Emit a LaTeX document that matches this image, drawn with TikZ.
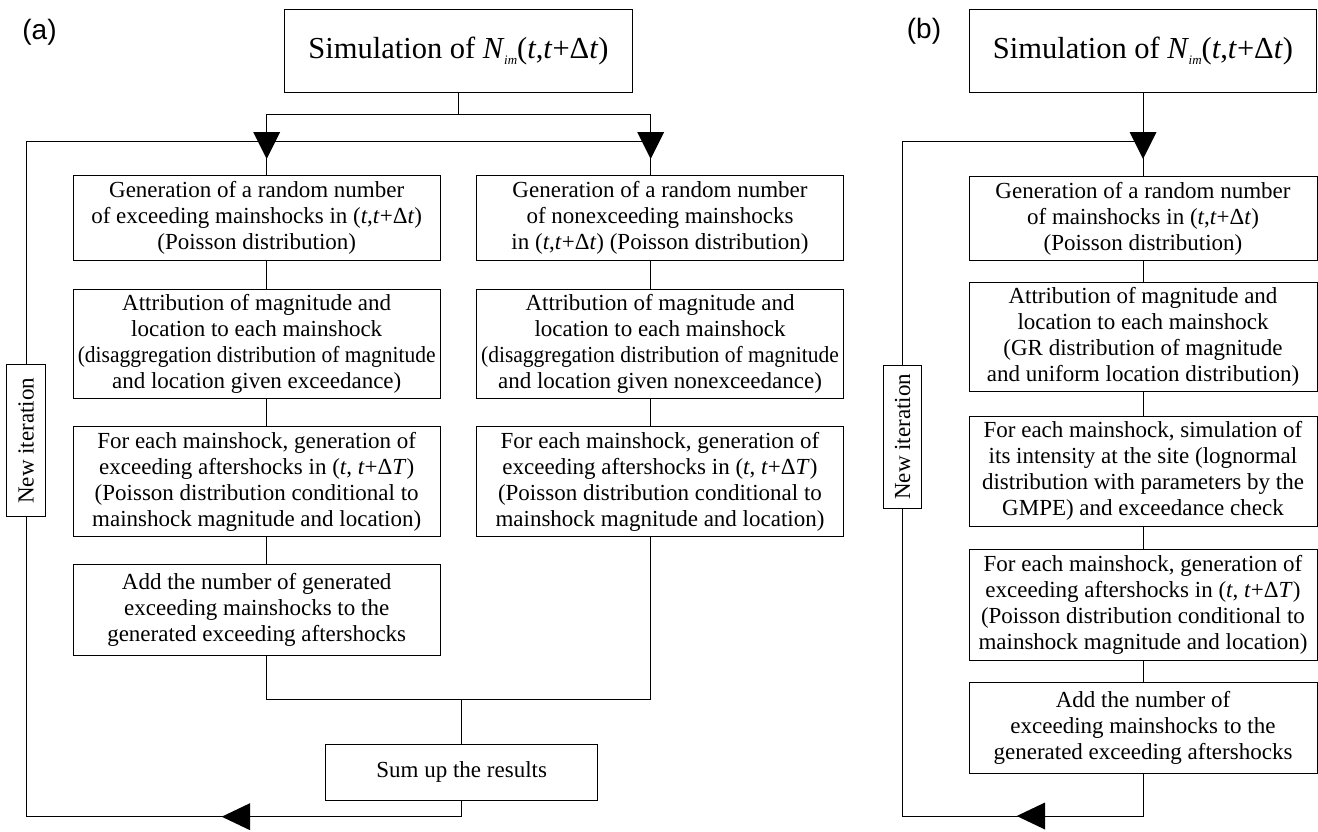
\documentclass[tikz,border=0pt]{standalone}
\usepackage{fontspec}
\setmainfont{Liberation Serif}
\newfontfamily\labelfont{Liberation Sans}
\newcommand\myTD{(\textit{t},\textit{t}+Δ\textit{t})}
\newcommand\myTT{(\textit{t}, \textit{t}+Δ\textit{T})}
\newcommand\myTitle{Simulation of \textit{N}\kern-0.5pt\raisebox{-0.45ex}{\fontsize{13}{13}\selectfont\textit{im}}\myTD}
\newcommand\mySq[1]{\scalebox{0.935}[1]{#1}}
\newcommand\myDownTri[2]{\fill[black] (#1,#2) -- ++(-13.5,-27) -- ++(27,0) -- cycle;}
\newcommand\myLeftTri[2]{\fill[black] (#1,#2) -- ++(28.3,-13.5) -- ++(0,27) -- cycle;}
\begin{document}
\begin{tikzpicture}[x=1pt,y=-1pt,
  box/.style={draw=black, line width=1pt, align=center, inner sep=0pt,
    font=\fontsize{23}{26}\selectfont},
  colA/.style={box, minimum width=366.7pt},
  colB/.style={box, minimum width=348pt},
  titlebox/.style={box, minimum width=347.5pt, minimum height=83.4pt,
    font=\fontsize{30.5}{34}\selectfont},
  iterbox/.style={box, minimum width=38.7pt},
  plabel/.style={inner sep=0pt, font=\labelfont\fontsize{28}{28}\selectfont},
  ln/.style={line width=1pt, draw=black}]
\useasboundingbox (0,0) rectangle (1318,831);

% ---------------- panel (a) ----------------
\node[plabel] (la) at (39.5,32) {(a)};
\node[titlebox] (titleA) at (458.5,51) {\myTitle};

\node[colA, minimum height=84.7pt] (A1L) at (256.7,218.3)
  {Generation of a random number\\of exceeding mainshocks in \myTD\\(Poisson distribution)};
\node[colA, minimum height=109pt] (A2L) at (256.7,343.8)
  {Attribution of magnitude and\\location to each mainshock\\\mySq{(disaggregation distribution of magnitude}\\and location given exceedance)};
\node[colA, minimum height=110pt] (A3L) at (256.7,481.7)
  {For each mainshock, generation of\\exceeding aftershocks in \myTT\\(Poisson distribution conditional to\\mainshock magnitude and location)};
\node[colA, minimum height=91.7pt] (A4L) at (256.7,609.9)
  {Add the number of generated\\exceeding mainshocks to the\\generated exceeding aftershocks};

\node[colA, minimum height=84.7pt] (A1R) at (660,218.3)
  {Generation of a random number\\of nonexceeding mainshocks\\in \myTD{} (Poisson distribution)};
\node[colA, minimum height=109pt] (A2R) at (660,343.8)
  {Attribution of magnitude and\\location to each mainshock\\\mySq{(disaggregation distribution of magnitude}\\and location given nonexceedance)};
\node[colA, minimum height=110pt] (A3R) at (660,481.7)
  {For each mainshock, generation of\\exceeding aftershocks in \myTT\\(Poisson distribution conditional to\\mainshock magnitude and location)};

\node[box, minimum width=272pt, minimum height=56pt] (sumA) at (461.7,772) {Sum up the results};
\node[iterbox, minimum height=151.7pt] (newA) at (26,440.8) {\rotatebox{90}{New iteration}};

\coordinate (jL) at (266.7,114.3);
\coordinate (jR) at (650.7,114.3);
\coordinate (jC) at (458.5,114.3);
\coordinate (loopA) at (26,141);
\coordinate (mL) at (266.7,699.3);
\coordinate (mR) at (650.7,699.3);
\coordinate (mC) at (461.7,699.3);
\coordinate (botA) at (461.7,816.7);
\coordinate (cornA) at (26,816.7);

\draw[ln] (titleA.south) -- (jC);
\draw[ln] (jL) -- (jR);
\draw[ln] (jL) -- (jL |- A1L.north);
\draw[ln] (jR) -- (jR |- A1R.north);
\draw[ln] (jL |- A1L.south) -- (jL |- A2L.north);
\draw[ln] (jL |- A2L.south) -- (jL |- A3L.north);
\draw[ln] (jL |- A3L.south) -- (jL |- A4L.north);
\draw[ln] (jR |- A1R.south) -- (jR |- A2R.north);
\draw[ln] (jR |- A2R.south) -- (jR |- A3R.north);
\draw[ln] (jL |- A4L.south) -- (mL) -- (mR) -- (jR |- A3R.south);
\draw[ln] (mC) -- (sumA.north);
\draw[ln] (sumA.south) -- (botA) -- (cornA) -- (newA.south);
\draw[ln] (newA.north) -- (loopA) -- (jR |- loopA);
\myDownTri{266.7}{159}
\myDownTri{650.7}{159}
\myLeftTri{221.7}{816.7}

% ---------------- panel (b) ----------------
\node[plabel] (lb) at (924,31) {(b)};
\node[titlebox] (titleB) at (1143,51) {\myTitle};

\node[colB, minimum height=84pt] (B1) at (1143,218.8)
  {Generation of a random number\\of mainshocks in \myTD\\(Poisson distribution)};
\node[colB, minimum height=108.3pt] (B2) at (1143,336.9)
  {Attribution of magnitude and\\location to each mainshock\\(GR distribution of magnitude\\and uniform location distribution)};
\node[colB, minimum height=110pt] (B3) at (1143,471)
  {For each mainshock, simulation of\\its intensity at the site (lognormal\\distribution with parameters by the\\GMPE) and exceedance check};
\node[colB, minimum height=110.7pt] (B4) at (1143,604.7)
  {For each mainshock, generation of\\exceeding aftershocks in \myTT\\(Poisson distribution conditional to\\mainshock magnitude and location)};
\node[colB, minimum height=91pt] (B5) at (1143,727.8)
  {Add the number of\\exceeding mainshocks to the\\generated exceeding aftershocks};
\node[iterbox, minimum height=143.3pt] (newB) at (902.5,436.7) {\rotatebox{90}{New iteration}};

\coordinate (loopB) at (902.5,141);
\coordinate (botB) at (1143,816);
\coordinate (cornB) at (902.5,816);

\draw[ln] (titleB.south) -- (B1.north);
\draw[ln] (B1.south) -- (B2.north);
\draw[ln] (B2.south) -- (B3.north);
\draw[ln] (B3.south) -- (B4.north);
\draw[ln] (B4.south) -- (B5.north);
\draw[ln] (B5.south) -- (botB) -- (cornB) -- (newB.south);
\draw[ln] (newB.north) -- (loopB) -- (titleB.south |- loopB);
\myDownTri{1143}{159}
\myLeftTri{1016.7}{816}
\end{tikzpicture}
\end{document}
